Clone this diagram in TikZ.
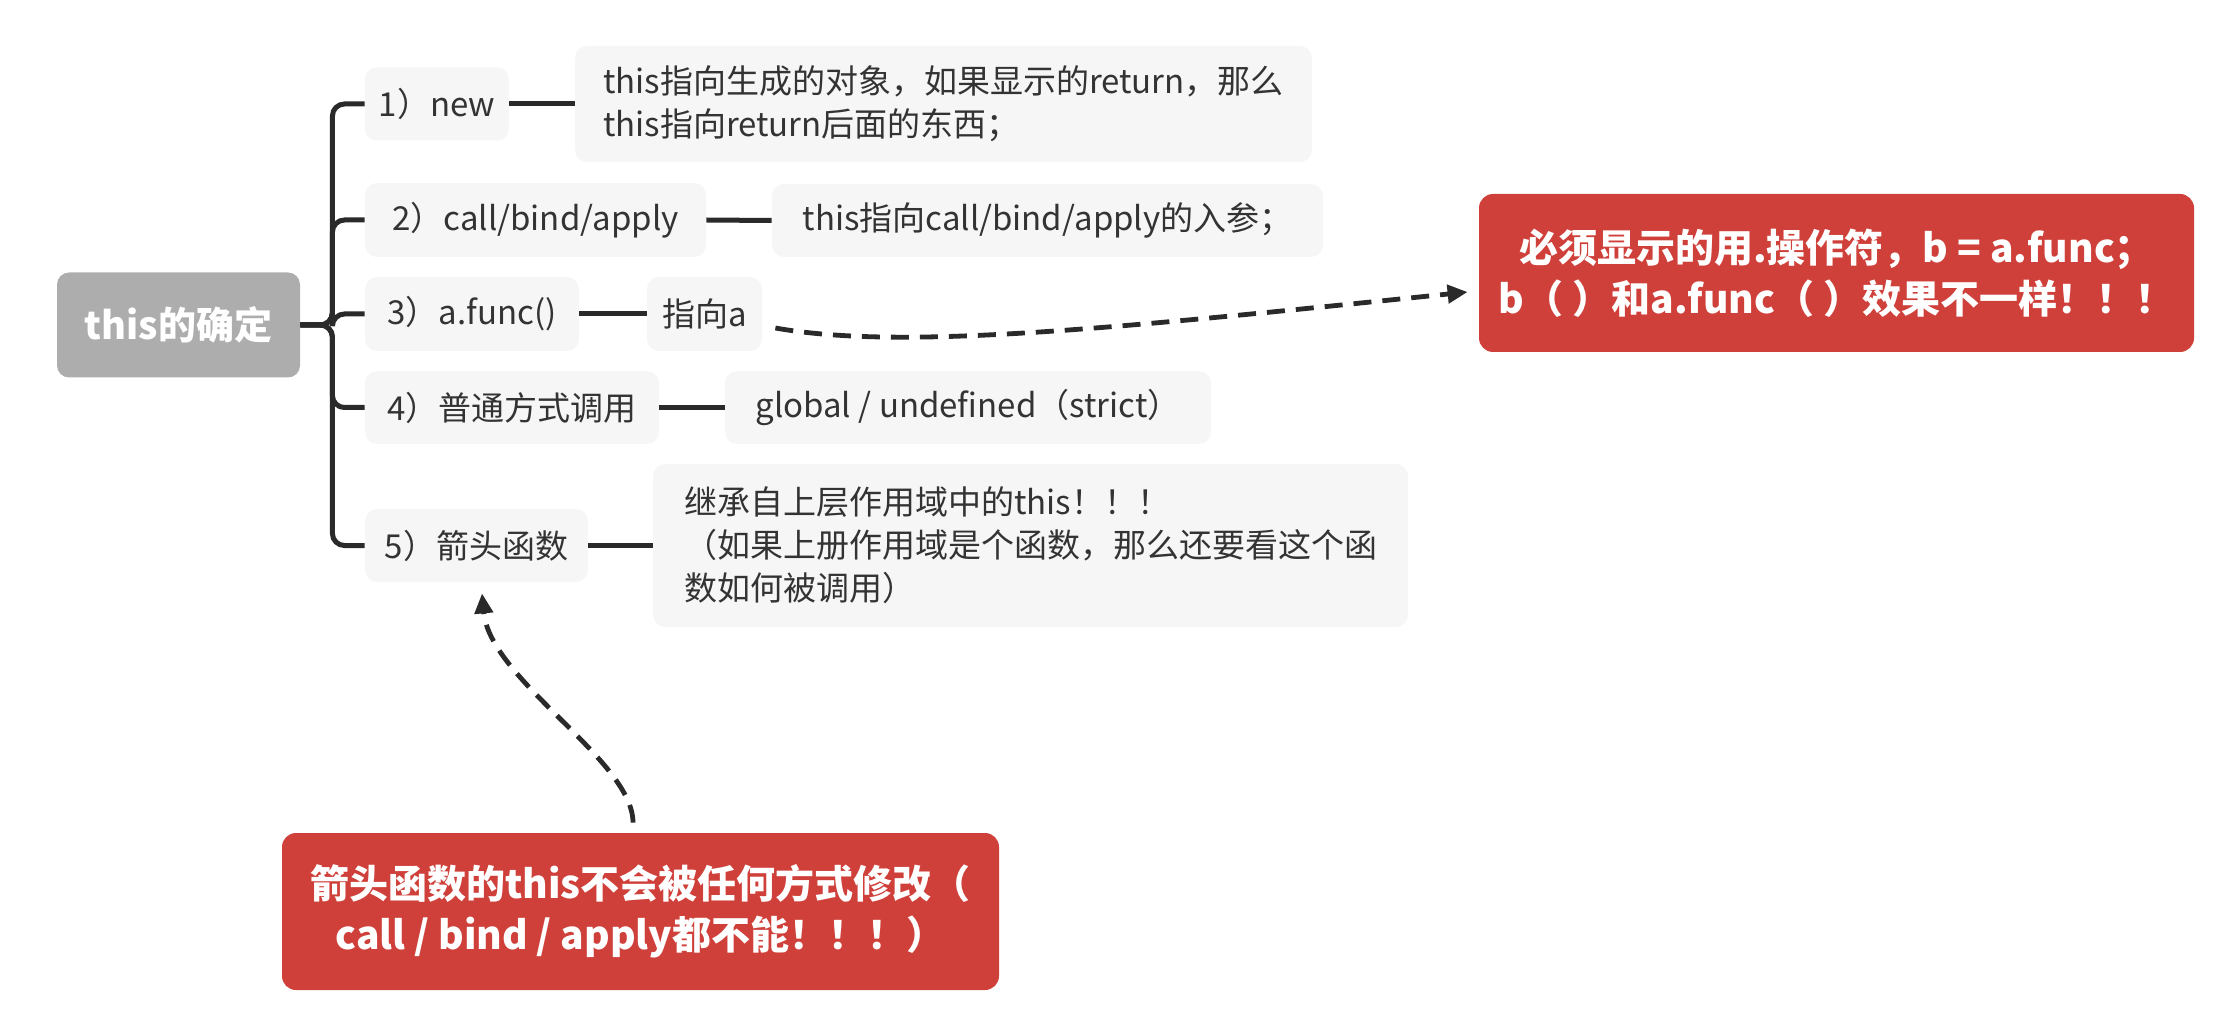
\documentclass[tikz,border=0pt]{standalone}
\usepackage{fontspec}
\setmainfont{Noto Sans CJK SC}
\usetikzlibrary{arrows.meta}
\definecolor{rootgray}{HTML}{ADADAD}
\definecolor{leafgray}{HTML}{F6F6F6}
\definecolor{notered}{HTML}{D0403A}
\definecolor{inkdark}{HTML}{333333}
\definecolor{linedark}{HTML}{2A2A2A}
\begin{document}
\begin{tikzpicture}[x=0.5pt, y=-0.5pt,
    pxsize/.style 2 args={minimum width=#1*0.5pt, minimum height=#2*0.5pt},
    box/.style={rounded corners=6pt, fill=leafgray, text=inkdark, inner sep=0pt, font=\fontsize{16.5}{21.5}\selectfont},
    rootbox/.style={rounded corners=6pt, fill=rootgray, text=white, inner sep=0pt, font=\fontsize{19}{23}\selectfont\bfseries},
    notebox/.style={rounded corners=7pt, fill=notered, text=white, inner sep=0pt, align=center, font=\fontsize{19.5}{25.5}\selectfont\bfseries},
    branch/.style={draw=linedark, line width=2.5pt, rounded corners=6pt},
    hint/.style={draw=linedark, line width=2.4pt, dash pattern=on 9pt off 5.5pt, -{Triangle[length=10pt,width=9pt]}}]
  \useasboundingbox (0,0) rectangle (2216,1010);
  % root and the five cases
  \node[rootbox, pxsize={243}{105}] (root) at (178.5,325) {this的确定};
  \node[box, pxsize={144}{73}] (new) at (437,104) {1）new};
  \node[box, pxsize={341}{74}] (call) at (535.5,220) {2）call/bind/apply};
  \node[box, pxsize={214}{74}] (func) at (472,314) {3）a.func()};
  \node[box, pxsize={294}{73}] (plain) at (512,407.5) {4）普通方式调用};
  \node[box, pxsize={223}{73}] (arrow) at (476.5,545.5) {5）箭头函数};
  % where this points
  \node[box, pxsize={737}{116}, align=left] (newthis) at (943.5,104)
    {this指向生成的对象，如果显示的return，那么\\this指向return后面的东西；};
  \node[box, pxsize={551}{73}] (callthis) at (1047.5,220.5) {this指向call/bind/apply的入参；};
  \node[box, pxsize={115}{74}] (functhis) at (704.5,314) {指向a};
  \node[box, pxsize={486}{73}] (plainthis) at (968,407.5) {global / undefined（strict）};
  \node[box, pxsize={755}{163}, align=left] (arrowthis) at (1030.5,545.5)
    {继承自上层作用域中的this！！！\\（如果上册作用域是个函数，那么还要看这个函\\数如何被调用）};
  % tree lines
  \foreach \b in {new,call,func,plain,arrow}
    \draw[branch] (root.east) -- ++(32,0) |- (\b.west);
  \foreach \b/\l in {new/newthis,call/callthis,func/functhis,plain/plainthis,arrow/arrowthis}
    \draw[branch] (\b.east) -- (\l.west);
  % notes
  \node[notebox, pxsize={715}{158}] (dotnote) at (1836.5,273)
    {必须显示的用.操作符，b = a.func；\\b（ ）和a.func（ ）效果不一样！！！};
  \node[notebox, pxsize={717}{157}] (arrownote) at (640.5,911.5)
    {箭头函数的this不会被任何方式修改（\\call / bind / apply都不能！！！）};
  \draw[hint] ([shift={(13,14)}]functhis.east) .. controls (900,350) and (1100,330) .. ([shift={(-11,19)}]dotnote.west);
  \draw[hint] ([shift={(-7.5,-10)}]arrownote.north) .. controls (633,760) and (490,680) .. ([shift={(5.5,11)}]arrow.south);
\end{tikzpicture}
\end{document}
